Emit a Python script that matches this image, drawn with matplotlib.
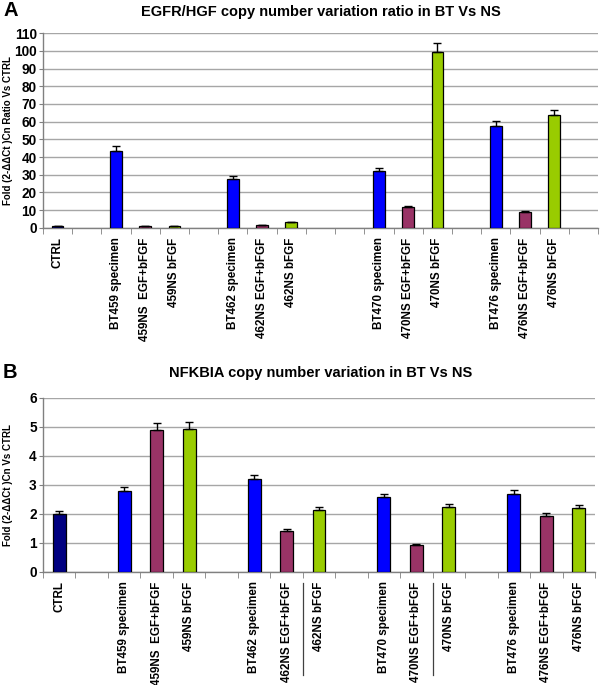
import numpy as np
import matplotlib
matplotlib.use("Agg")
import matplotlib.pyplot as plt
import matplotlib.transforms as mtransforms

plt.rcParams['font.family'] = ['Liberation Sans', 'DejaVu Sans']

# ---------------- data ----------------
cats_a = ["CTRL", "", "BT459 specimen", "459NS  EGF+bFGF", "459NS bFGF", "",
          "BT462 specimen", "462NS EGF+bFGF", "462NS bFGF", "", "",
          "BT470 specimen", "470NS EGF+bFGF", "470NS bFGF", "",
          "BT476 specimen", "476NS EGF+bFGF", "476NS bFGF", ""]
vals_a = [1.0, np.nan, 43.6, 1.0, 1.0, np.nan,
          27.8, 1.4, 3.1, np.nan, np.nan,
          32.3, 11.5, 99.3, np.nan,
          57.5, 8.7, 63.6, np.nan]
err_a = [0.2, 0, 2.5, 0.2, 0.2, 0,
         1.3, 0.2, 0.3, 0, 0,
         1.6, 0.5, 5.0, 0,
         3.0, 0.5, 3.2, 0]

cats_b = ["CTRL", "", "BT459 specimen", "459NS  EGF+bFGF", "459NS bFGF", "",
          "BT462 specimen", "462NS EGF+bFGF", "462NS bFGF", "",
          "BT470 specimen", "470NS EGF+bFGF", "470NS bFGF", "",
          "BT476 specimen", "476NS EGF+bFGF", "476NS bFGF"]
vals_b = [2.0, np.nan, 2.78, 4.89, 4.91, np.nan,
          3.2, 1.40, 2.13, np.nan,
          2.57, 0.92, 2.23, np.nan,
          2.68, 1.93, 2.20]
err_b = [0.1, 0, 0.13, 0.25, 0.26, 0,
         0.15, 0.07, 0.11, 0,
         0.12, 0.05, 0.11, 0,
         0.13, 0.09, 0.11]

color_map = {"CTRL": "#000080", "specimen": "#0000FF", "EGF": "#993366", "bFGF": "#99CC00"}


def bar_color(label):
    if label == "CTRL":
        return color_map["CTRL"]
    if "specimen" in label:
        return color_map["specimen"]
    if "EGF+" in label:
        return color_map["EGF"]
    return color_map["bFGF"]


W, H = 600, 685
fig = plt.figure(figsize=(W / 100, H / 100), dpi=100)

grid_col = "#a6a6a6"
axis_col = "#808080"


def panel(rect, cats, vals, errs, ymax, ystep, title, letter, ylabel, title_y, letter_y):
    ax = fig.add_axes(rect)
    n = len(cats)
    x = np.arange(n)
    v = np.array(vals, dtype=float)
    e = np.array(errs, dtype=float)
    mask = ~np.isnan(v)
    cols = [bar_color(c) for c in cats]
    ax.bar(x[mask], v[mask], width=0.4, color=[c for c, m in zip(cols, mask) if m],
           edgecolor="black", linewidth=0.9, zorder=3)
    ax.errorbar(x[mask], v[mask], yerr=[np.zeros(mask.sum()), e[mask]], fmt="none",
                ecolor="black", elinewidth=1.0, capsize=3, capthick=1.0, zorder=4)
    ax.set_xlim(-0.5, n - 0.5)
    ax.set_ylim(0, ymax)
    ax.set_yticks(np.arange(0, ymax + 0.01, ystep))
    ax.yaxis.grid(True, color=grid_col, linewidth=1.0, zorder=0)
    ax.set_axisbelow(True)
    for s in ["top", "right"]:
        ax.spines[s].set_visible(False)
    for s in ["left", "bottom"]:
        ax.spines[s].set_color(axis_col)
        ax.spines[s].set_linewidth(1.0)
    ax.set_xticks(x)
    ax.set_xticklabels(cats, rotation=90, fontsize=8.4, fontweight="bold", va="top")
    ax.tick_params(axis="x", which="major", length=0, pad=7)
    ax.set_xticks(np.arange(-0.5, n - 0.5 + 0.01, 1.0), minor=True)
    ax.tick_params(axis="x", which="minor", length=4, color=axis_col, direction="out")
    ax.tick_params(axis="y", length=3, color=axis_col, direction="out",
                   labelsize=9.8, pad=1.5)
    for lbl in ax.get_yticklabels():
        lbl.set_fontweight("bold")
    ax.set_ylabel(ylabel, fontsize=7, fontweight="bold")
    ax.yaxis.set_label_coords(-30 / (rect[2] * W), 0.5)
    fig.text(321 / W, 1 - title_y / H, title, ha="center", va="center",
             fontsize=10.5, fontweight="bold")
    fig.text(3 / W, 1 - letter_y / H, letter, ha="left", va="center",
             fontsize=14.5, fontweight="bold")
    return ax


ax_a = panel([43 / W, 1 - 227.7 / H, 555 / W, 194.4 / H], cats_a, vals_a, err_a,
             110, 10, "EGFR/HGF copy number variation ratio in BT Vs NS", "A",
             "Fold (2-\u0394\u0394Ct )Cn Ratio Vs CTRL", 12, 10)

ax_b = panel([43 / W, 1 - 571.7 / H, 552 / W, 174 / H], cats_b, vals_b, err_b,
             6, 1, "NFKBIA copy number variation in BT Vs NS", "B",
             "Fold (2-\u0394\u0394Ct )Cn Vs CTRL", 373, 372)

# separator lines below the axis in panel B
trans = mtransforms.blended_transform_factory(ax_b.transData, ax_b.transAxes)
for xb in [7.5, 11.5]:
    ax_b.plot([xb, xb], [-0.065, -0.594], transform=trans, color="#404040",
              linewidth=0.9, clip_on=False)

fig.savefig("out.png", dpi=100)
